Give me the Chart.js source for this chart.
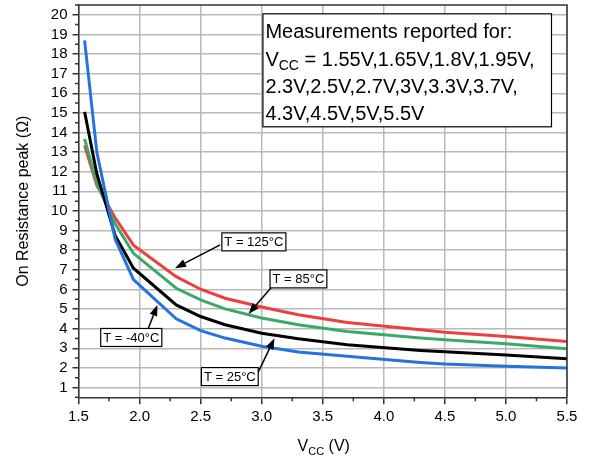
<!DOCTYPE html>
<html><head><meta charset="utf-8">
<script src="https://cdn.jsdelivr.net/npm/chart.js@4.4.0/dist/chart.umd.min.js"></script>
<style>html,body{margin:0;padding:0;background:#fff;}#wrap{width:590px;height:461px;}</style>
</head><body><div id="wrap"><canvas id="c" width="590" height="461"></canvas></div>
<script>
// ---- data ----
const vcc = [1.55, 1.65, 1.8, 1.95, 2.3, 2.5, 2.7, 3.0, 3.3, 3.7, 4.3, 4.5, 5.0, 5.5];
const ronM40 = [18.7, 13.0, 8.55, 6.5, 4.5, 3.9, 3.52, 3.1, 2.81, 2.59, 2.28, 2.2, 2.08, 2.0];
const ron25  = [15.05, 11.9, 8.75, 7.08, 5.21, 4.62, 4.2, 3.77, 3.49, 3.18, 2.89, 2.82, 2.66, 2.47];
const ron85  = [13.68, 11.4, 9.35, 7.84, 6.06, 5.47, 5.01, 4.54, 4.2, 3.86, 3.52, 3.43, 3.23, 2.98];
const ron125 = [13.35, 11.3, 9.65, 8.26, 6.65, 6.01, 5.55, 5.1, 4.71, 4.31, 3.94, 3.82, 3.6, 3.35];
const xTickValues = [1.5, 2.0, 2.5, 3.0, 3.5, 4.0, 4.5, 5.0, 5.5];
const xMinorValues = [1.75, 2.25, 2.75, 3.25, 3.75, 4.25, 4.75, 5.25];
const yTickValues = [1, 2, 3, 4, 5, 6, 7, 8, 9, 10, 11, 12, 13, 14, 15, 16, 17, 18, 19, 20];
const yMinorValues = [0.5, 1.5, 2.5, 3.5, 4.5, 5.5, 6.5, 7.5, 8.5, 9.5, 10.5, 11.5, 12.5, 13.5, 14.5, 15.5, 16.5, 17.5, 18.5, 19.5, 20.5];
const tempLabels = ['T = -40°C', 'T = 25°C', 'T = 85°C', 'T = 125°C'];
const labelCenters = [[1.932, 3.55], [2.739, 1.556], [3.301, 6.536], [2.936, 8.424]];
const arrowStarts  = [[2.072, 4.02], [2.961, 1.64], [3.084, 6.14], [2.66, 8.27]];
const arrowTips    = [[2.146, 5.21], [3.105, 3.51], [2.892, 4.75], [2.291, 7.08]];
const noteLines = ['Measurements reported for:', ' = 1.55V,1.65V,1.8V,1.95V,', '2.3V,2.5V,2.7V,3V,3.3V,3.7V,', '4.3V,4.5V,5V,5.5V'];
const noteBox = [3.01, 20.05, 5.373, 14.29];

const FONT = '"Liberation Sans", Arial, Helvetica, sans-serif';
const AX = '#333333';

function pts(arr) { return vcc.map((v, i) => ({x: v, y: arr[i]})); }

function arrow(ctx, x0, y0, x1, y1) {
  ctx.save();
  ctx.strokeStyle = '#000'; ctx.fillStyle = '#000'; ctx.lineWidth = 1.5;
  const a = Math.atan2(y1 - y0, x1 - x0);
  const L = 11, W = 4;
  const bx = x1 - L * Math.cos(a), by = y1 - L * Math.sin(a);
  ctx.beginPath(); ctx.moveTo(x0, y0); ctx.lineTo(bx, by); ctx.stroke();
  ctx.beginPath();
  ctx.moveTo(x1, y1);
  ctx.lineTo(bx + W * Math.sin(a), by - W * Math.cos(a));
  ctx.lineTo(bx - W * Math.sin(a), by + W * Math.cos(a));
  ctx.closePath(); ctx.fill();
  ctx.restore();
}

const decor = {
  id: 'decor',
  afterDraw(chart) {
    const {ctx, chartArea: ca, scales: {x, y}} = chart;
    ctx.save();
    // minor ticks
    ctx.strokeStyle = AX; ctx.lineWidth = 1.5;
    ctx.beginPath();
    xMinorValues.forEach(v => { const px = x.getPixelForValue(v); ctx.moveTo(px, ca.bottom); ctx.lineTo(px, ca.bottom + 4); });
    yMinorValues.forEach(v => { const py = y.getPixelForValue(v); ctx.moveTo(ca.left, py); ctx.lineTo(ca.left - 3.5, py); });
    ctx.stroke();
    // frame top/right
    ctx.beginPath();
    ctx.moveTo(ca.left, ca.top); ctx.lineTo(ca.right, ca.top); ctx.lineTo(ca.right, ca.bottom);
    ctx.stroke();

    // x title with subscript
    ctx.fillStyle = '#000'; ctx.textBaseline = 'alphabetic'; ctx.textAlign = 'left';
    const f1 = '16px ' + FONT, f2 = '11px ' + FONT;
    ctx.font = f1; const wV = ctx.measureText('V').width; const wT = ctx.measureText(' (V)').width;
    ctx.font = f2; const wC = ctx.measureText('CC').width;
    const tot = wV + wC + wT;
    let tx = (ca.left + ca.right) / 2 - tot / 2 + 1;
    const ty = 451;
    ctx.font = f1; ctx.fillText('V', tx, ty); tx += wV;
    ctx.font = f2; ctx.fillText('CC', tx, ty + 3.5); tx += wC;
    ctx.font = f1; ctx.fillText(' (V)', tx, ty);

    // note box
    const bx0 = x.getPixelForValue(noteBox[0]), by0 = y.getPixelForValue(noteBox[1]);
    const bx1 = x.getPixelForValue(noteBox[2]), by1 = y.getPixelForValue(noteBox[3]);
    ctx.fillStyle = '#fff'; ctx.fillRect(bx0, by0, bx1 - bx0, by1 - by0);
    ctx.strokeStyle = '#000'; ctx.lineWidth = 1.2; ctx.strokeRect(bx0, by0, bx1 - bx0, by1 - by0);
    ctx.fillStyle = '#000';
    const nf = '20px ' + FONT, ns = '14px ' + FONT;
    const lx = bx0 + 2.5;
    ctx.font = nf; ctx.fillText(noteLines[0], lx, by0 + 24);
    ctx.fillText('V', lx, by0 + 52);
    const vw = ctx.measureText('V').width;
    ctx.font = ns; ctx.fillText('CC', lx + vw, by0 + 56.5);
    const cw = ctx.measureText('CC').width;
    ctx.font = nf; ctx.fillText(noteLines[1], lx + vw + cw, by0 + 52);
    ctx.fillText(noteLines[2], lx, by0 + 79.5);
    ctx.fillText(noteLines[3], lx, by0 + 106.5);

    // temperature labels + arrows
    tempLabels.forEach((t, i) => {
      arrow(ctx, x.getPixelForValue(arrowStarts[i][0]), y.getPixelForValue(arrowStarts[i][1]),
                 x.getPixelForValue(arrowTips[i][0]), y.getPixelForValue(arrowTips[i][1]));
      ctx.font = '13px ' + FONT;
      const w = ctx.measureText(t).width + 5, h = 18;
      const cx = x.getPixelForValue(labelCenters[i][0]), cy = y.getPixelForValue(labelCenters[i][1]);
      ctx.fillStyle = '#fff'; ctx.fillRect(cx - w / 2, cy - h / 2, w, h);
      ctx.strokeStyle = '#000'; ctx.lineWidth = 1.2; ctx.strokeRect(cx - w / 2, cy - h / 2, w, h);
      ctx.fillStyle = '#000'; ctx.textAlign = 'center'; ctx.textBaseline = 'middle';
      ctx.fillText(t, cx, cy + 0.5);
      ctx.textAlign = 'left'; ctx.textBaseline = 'alphabetic';
    });
    ctx.restore();
  }
};

function ds(label, arr, color) {
  return {label, data: pts(arr), borderColor: color, backgroundColor: color, borderWidth: 3,
          pointRadius: 0, tension: 0, fill: false};
}

new Chart(document.getElementById('c'), {
  type: 'line',
  data: {datasets: [
    ds('T = -40°C', ronM40, '#2473DE'),
    ds('T = 25°C', ron25, '#000000'),
    ds('T = 85°C', ron85, '#3AA96B'),
    ds('T = 125°C', ron125, '#EE3E3E')
  ]},
  options: {
    responsive: false, animation: false, devicePixelRatio: 1,
    layout: {padding: {left: 10, right: 23, top: 5, bottom: 0}},
    plugins: {legend: {display: false}, tooltip: {enabled: false}},
    scales: {
      x: {
        type: 'linear', min: 1.5, max: 5.5,
        afterBuildTicks: s => { s.ticks = xTickValues.map(v => ({value: v})); },
        afterFit: s => { s.height = 63.7; s.paddingLeft = 0; s.paddingRight = 0; },
        ticks: {autoSkip: false, maxRotation: 0, padding: 4, color: '#000',
                font: {family: FONT, size: 15}, callback: v => Number(v).toFixed(1)},
        grid: {color: 'rgb(185,185,185)', lineWidth: 1.5, tickColor: AX, tickLength: 7, tickWidth: 1.5},
        border: {color: AX, width: 1.5}
      },
      y: {
        type: 'linear', min: 0.5, max: 20.5,
        afterBuildTicks: s => { s.ticks = yTickValues.map(v => ({value: v})); },
        afterFit: s => { s.width = 68.5; s.paddingTop = 0; s.paddingBottom = 0; },
        ticks: {autoSkip: false, padding: 5, color: '#000', font: {family: FONT, size: 15}, callback: v => String(v)},
        grid: {color: 'rgb(185,185,185)', lineWidth: 1.5, tickColor: AX, tickLength: 6, tickWidth: 1.5},
        border: {color: AX, width: 1.5},
        title: {display: true, text: 'On Resistance peak (Ω)', color: '#000', font: {family: FONT, size: 16}, padding: 4}
      }
    }
  },
  plugins: [decor]
});
</script></body></html>
